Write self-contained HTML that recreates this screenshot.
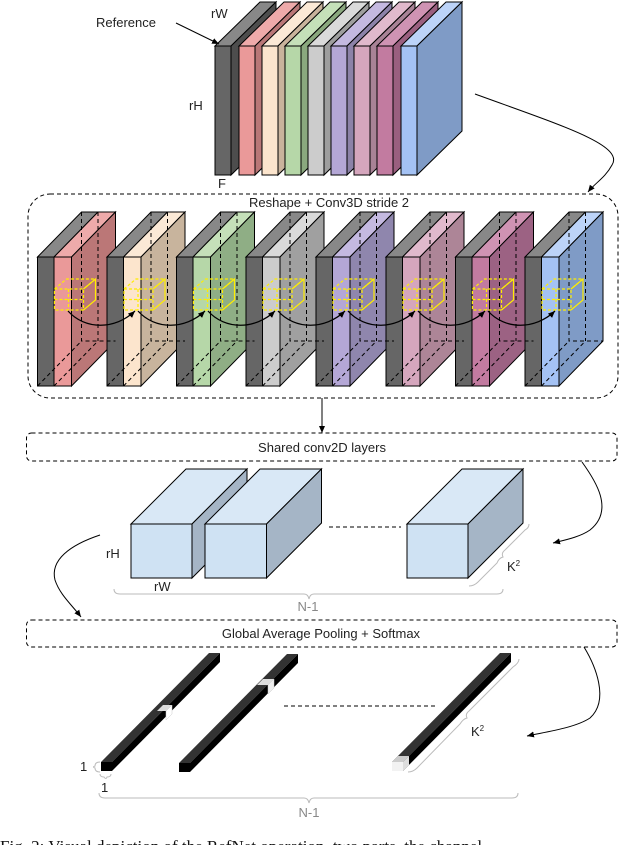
<!DOCTYPE html>
<html><head><meta charset="utf-8"><style>
body{margin:0;background:#fff}
svg{display:block}
text{font-family:"Liberation Sans",sans-serif;fill:#222}
</style></head><body>
<svg width="640" height="845" viewBox="0 0 640 845" xmlns="http://www.w3.org/2000/svg">
<defs>
<marker id="ah" markerWidth="8" markerHeight="8" refX="7" refY="4" orient="auto" markerUnits="userSpaceOnUse"><path d="M0,1 L7,4 L0,7 Z" fill="#000"/></marker>
</defs>
<g stroke="#000" stroke-width="1">
<!-- top stack -->
<g transform="translate(215,0)"><polygon points="0,46 45,2 61,2 16,46" fill="#888"/><polygon points="16,46 61,2 61,131 16,175" fill="#4d4d4d"/><rect x="0" y="46" width="16" height="129" fill="#666"/></g>
<g transform="translate(239,0)"><polygon points="0,46 45,2 61,2 16,46" fill="#eeaaaa"/><polygon points="16,46 61,2 61,131 16,175" fill="#b97777"/><rect x="0" y="46" width="16" height="129" fill="#ea9999"/></g>
<g transform="translate(262,0)"><polygon points="0,46 45,2 61,2 16,46" fill="#fbe9d6"/><polygon points="16,46 61,2 61,131 16,175" fill="#c9b39c"/><rect x="0" y="46" width="16" height="129" fill="#fce5cd"/></g>
<g transform="translate(285,0)"><polygon points="0,46 45,2 61,2 16,46" fill="#c5e0b9"/><polygon points="16,46 61,2 61,131 16,175" fill="#8aa87e"/><rect x="0" y="46" width="16" height="129" fill="#b6d7a8"/></g>
<g transform="translate(308,0)"><polygon points="0,46 45,2 61,2 16,46" fill="#dadada"/><polygon points="16,46 61,2 61,131 16,175" fill="#9e9e9e"/><rect x="0" y="46" width="16" height="129" fill="#cccccc"/></g>
<g transform="translate(331,0)"><polygon points="0,46 45,2 61,2 16,46" fill="#c4b9e0"/><polygon points="16,46 61,2 61,131 16,175" fill="#8c82a8"/><rect x="0" y="46" width="16" height="129" fill="#b4a7d6"/></g>
<g transform="translate(354,0)"><polygon points="0,46 45,2 61,2 16,46" fill="#e0b9cc"/><polygon points="16,46 61,2 61,131 16,175" fill="#a88296"/><rect x="0" y="46" width="16" height="129" fill="#d5a6bd"/></g>
<g transform="translate(377,0)"><polygon points="0,46 45,2 61,2 16,46" fill="#cf93b3"/><polygon points="16,46 61,2 61,131 16,175" fill="#9a5f7f"/><rect x="0" y="46" width="16" height="129" fill="#c27ba0"/></g>
<g transform="translate(401,0)"><polygon points="0,46 45,2 61,2 16,46" fill="#bcd3f8"/><polygon points="16,46 61,2 61,131 16,175" fill="#7f9bc6"/><rect x="0" y="46" width="16" height="129" fill="#a4c2f4"/></g>
</g>
<line x1="176" y1="23" x2="219" y2="44" stroke="#000" marker-end="url(#ah)"/>
<text x="96" y="27" font-size="13">Reference</text>
<text x="211" y="18" font-size="13">rW</text>
<text x="189" y="110" font-size="13">rH</text>
<text x="218" y="188" font-size="13">F</text>
<path d="M475,94 C560,125 625,145 612,165 C605,178 595,183 588,192" fill="none" stroke="#000" marker-end="url(#ah)"/>

<!-- box 1 -->
<rect x="28" y="194" width="590" height="204" rx="22" fill="none" stroke="#000" stroke-dasharray="4,3"/>
<text x="329" y="207" font-size="13" text-anchor="middle">Reshape + Conv3D stride 2</text>

<!-- slab groups -->
<g id="grp1" transform="translate(37.5,0)" stroke="#000">
<polygon points="0,257 44,212 60.5,212 16.5,257" fill="#888"/><rect x="0" y="257" width="16.5" height="129" fill="#666"/>
<polygon points="16.5,257 60.5,212 78,212 34,257" fill="#eeaaaa"/><polygon points="34,257 78,212 78,341 34,386" fill="#bb7777"/><rect x="16.5" y="257" width="17.5" height="129" fill="#ea9999"/>
</g>
<g transform="translate(107,0)" stroke="#000">
<polygon points="0,257 44,212 60.5,212 16.5,257" fill="#888"/><rect x="0" y="257" width="16.5" height="129" fill="#666"/>
<polygon points="16.5,257 60.5,212 78,212 34,257" fill="#fbe9d6"/><polygon points="34,257 78,212 78,341 34,386" fill="#c8b49d"/><rect x="16.5" y="257" width="17.5" height="129" fill="#fce5cd"/>
</g>
<g transform="translate(176.5,0)" stroke="#000">
<polygon points="0,257 44,212 60.5,212 16.5,257" fill="#888"/><rect x="0" y="257" width="16.5" height="129" fill="#666"/>
<polygon points="16.5,257 60.5,212 78,212 34,257" fill="#c5e0b9"/><polygon points="34,257 78,212 78,341 34,386" fill="#8fae85"/><rect x="16.5" y="257" width="17.5" height="129" fill="#b6d7a8"/>
</g>
<g transform="translate(246,0)" stroke="#000">
<polygon points="0,257 44,212 60.5,212 16.5,257" fill="#888"/><rect x="0" y="257" width="16.5" height="129" fill="#666"/>
<polygon points="16.5,257 60.5,212 78,212 34,257" fill="#dadada"/><polygon points="34,257 78,212 78,341 34,386" fill="#a0a0a0"/><rect x="16.5" y="257" width="17.5" height="129" fill="#cccccc"/>
</g>
<g transform="translate(316,0)" stroke="#000">
<polygon points="0,257 44,212 60.5,212 16.5,257" fill="#888"/><rect x="0" y="257" width="16.5" height="129" fill="#666"/>
<polygon points="16.5,257 60.5,212 78,212 34,257" fill="#c4b9e0"/><polygon points="34,257 78,212 78,341 34,386" fill="#8f86ad"/><rect x="16.5" y="257" width="17.5" height="129" fill="#b4a7d6"/>
</g>
<g transform="translate(386,0)" stroke="#000">
<polygon points="0,257 44,212 60.5,212 16.5,257" fill="#888"/><rect x="0" y="257" width="16.5" height="129" fill="#666"/>
<polygon points="16.5,257 60.5,212 78,212 34,257" fill="#e0b9cc"/><polygon points="34,257 78,212 78,341 34,386" fill="#ad8597"/><rect x="16.5" y="257" width="17.5" height="129" fill="#d5a6bd"/>
</g>
<g transform="translate(455.5,0)" stroke="#000">
<polygon points="0,257 44,212 60.5,212 16.5,257" fill="#888"/><rect x="0" y="257" width="16.5" height="129" fill="#666"/>
<polygon points="16.5,257 60.5,212 78,212 34,257" fill="#cf93b3"/><polygon points="34,257 78,212 78,341 34,386" fill="#9c6283"/><rect x="16.5" y="257" width="17.5" height="129" fill="#c27ba0"/>
</g>
<g transform="translate(525,0)" stroke="#000">
<polygon points="0,257 44,212 60.5,212 16.5,257" fill="#888"/><rect x="0" y="257" width="16.5" height="129" fill="#666"/>
<polygon points="16.5,257 60.5,212 78,212 34,257" fill="#bcd3f8"/><polygon points="34,257 78,212 78,341 34,386" fill="#7f9bc6"/><rect x="16.5" y="257" width="17.5" height="129" fill="#a4c2f4"/>
</g>
<!-- dashed hidden edges + yellow cubes -->
<g fill="none" stroke="#000" stroke-dasharray="4,3">
<path d="M81.5,212V341H115.5M37.5,386L81.5,341M54,386L98,341M98,212V341"/>
<path d="M151,212V341H185M107,386L151,341M123.5,386L167.5,341M167.5,212V341"/>
<path d="M220.5,212V341H254.5M176.5,386L220.5,341M193,386L237,341M237,212V341"/>
<path d="M290,212V341H324M246,386L290,341M262.5,386L306.5,341M306.5,212V341"/>
<path d="M360,212V341H394M316,386L360,341M332.5,386L376.5,341M376.5,212V341"/>
<path d="M430,212V341H464M386,386L430,341M402.5,386L446.5,341M446.5,212V341"/>
<path d="M499.5,212V341H533.5M455.5,386L499.5,341M472,386L516,341M516,212V341"/>
<path d="M569,212V341H603M525,386L569,341M541.5,386L585.5,341M585.5,212V341"/>
</g>
<g fill="none" stroke="#ffee00" stroke-width="1.2">
<g transform="translate(37.5,0)"><rect x="17" y="289" width="29" height="21" stroke-dasharray="3,2"/><path d="M31,289V310M17,299.5H46M17,289L29,279H58L46,289" stroke-dasharray="3,2"/><path d="M46,289L58,279V300L46,310"/></g>
<g transform="translate(107,0)"><rect x="17" y="289" width="29" height="21" stroke-dasharray="3,2"/><path d="M31,289V310M17,299.5H46M17,289L29,279H58L46,289" stroke-dasharray="3,2"/><path d="M46,289L58,279V300L46,310"/></g>
<g transform="translate(176.5,0)"><rect x="17" y="289" width="29" height="21" stroke-dasharray="3,2"/><path d="M31,289V310M17,299.5H46M17,289L29,279H58L46,289" stroke-dasharray="3,2"/><path d="M46,289L58,279V300L46,310"/></g>
<g transform="translate(246,0)"><rect x="17" y="289" width="29" height="21" stroke-dasharray="3,2"/><path d="M31,289V310M17,299.5H46M17,289L29,279H58L46,289" stroke-dasharray="3,2"/><path d="M46,289L58,279V300L46,310"/></g>
<g transform="translate(316,0)"><rect x="17" y="289" width="29" height="21" stroke-dasharray="3,2"/><path d="M31,289V310M17,299.5H46M17,289L29,279H58L46,289" stroke-dasharray="3,2"/><path d="M46,289L58,279V300L46,310"/></g>
<g transform="translate(386,0)"><rect x="17" y="289" width="29" height="21" stroke-dasharray="3,2"/><path d="M31,289V310M17,299.5H46M17,289L29,279H58L46,289" stroke-dasharray="3,2"/><path d="M46,289L58,279V300L46,310"/></g>
<g transform="translate(455.5,0)"><rect x="17" y="289" width="29" height="21" stroke-dasharray="3,2"/><path d="M31,289V310M17,299.5H46M17,289L29,279H58L46,289" stroke-dasharray="3,2"/><path d="M46,289L58,279V300L46,310"/></g>
<g transform="translate(525,0)"><rect x="17" y="289" width="29" height="21" stroke-dasharray="3,2"/><path d="M31,289V310M17,299.5H46M17,289L29,279H58L46,289" stroke-dasharray="3,2"/><path d="M46,289L58,279V300L46,310"/></g>
</g>
<g fill="none" stroke="#000" stroke-width="1.3">
<path d="M68,311 C85,330 115,330 135,311" marker-end="url(#ah)"/>
<path d="M138,311 C155,330 185,330 205,311" marker-end="url(#ah)"/>
<path d="M208,311 C225,330 255,330 275,311" marker-end="url(#ah)"/>
<path d="M278,311 C295,330 325,330 345,311" marker-end="url(#ah)"/>
<path d="M348,311 C365,330 395,330 415,311" marker-end="url(#ah)"/>
<path d="M418,311 C435,330 465,330 485,311" marker-end="url(#ah)"/>
<path d="M488,311 C505,330 535,330 555,311" marker-end="url(#ah)"/>
</g>

<line x1="322" y1="398" x2="322" y2="433" stroke="#000" marker-end="url(#ah)"/>
<!-- shared conv box -->
<rect x="26.5" y="433" width="590.5" height="28" rx="5" fill="none" stroke="#000" stroke-dasharray="4,3"/>
<text x="322" y="452" font-size="13" text-anchor="middle">Shared conv2D layers</text>

<g stroke="#000">
<polygon points="131,524 186,469 247,469 192,524" fill="#d9e8f6"/><polygon points="192,524 247,469 247,523 192,578" fill="#a5b5c6"/><rect x="131" y="524" width="61" height="54" fill="#cfe2f3"/>
<polygon points="205,524 260,469 321.5,469 266.5,524" fill="#d9e8f6"/><polygon points="266.5,524 321.5,469 321.5,523 266.5,578" fill="#a5b5c6"/><rect x="205" y="524" width="61.5" height="54" fill="#cfe2f3"/>
<polygon points="407,524 462,469 523,469 468,524" fill="#d9e8f6"/><polygon points="468,524 523,469 523,523 468,578" fill="#a5b5c6"/><rect x="407" y="524" width="61" height="54" fill="#cfe2f3"/>
</g>
<line x1="329" y1="527" x2="401" y2="527" stroke="#000" stroke-dasharray="4,3"/>
<text x="106" y="558" font-size="13">rH</text>
<text x="154" y="591" font-size="13">rW</text>
<text x="507" y="571" font-size="13">K<tspan font-size="8" dy="-5">2</tspan></text>
<g fill="none" stroke="#bbb">
<path d="M114,589 Q114,594 120,594 H304 Q308,594 309,599 Q310,594 314,594 H497 Q503,594 503,589"/>
<path d="M469,586 Q474,586 478,582 L497,563 Q499,558 503,557 Q501,553 505,550 L525,530 Q529,528 529,524"/>
</g>
<text x="308" y="611" font-size="13" text-anchor="middle" fill="#888" style="fill:#888">N-1</text>
<path d="M582,462 C595,480 615,510 590,530 C580,537 565,540 553,543" fill="none" stroke="#000" marker-end="url(#ah)"/>
<path d="M100,535 C70,545 50,560 55,580 C60,595 72,605 81,617" fill="none" stroke="#000" marker-end="url(#ah)"/>

<!-- GAP box -->
<rect x="26.5" y="620" width="590.5" height="27" rx="5" fill="none" stroke="#000" stroke-dasharray="4,3"/>
<text x="321" y="638" font-size="13" text-anchor="middle">Global Average Pooling + Softmax</text>

<!-- bars -->
<g>
<polygon points="101,762 209,653 220,653 112,762" fill="#333"/><polygon points="112,762 220,653 220,662 112,771" fill="#000"/><rect x="101" y="762" width="11" height="9" fill="#000"/>
<polygon points="157,711 163,705 172,705 166,711" fill="#ddd"/><polygon points="166,711 172,705 172,714 166,720" fill="#fff" stroke="#ccc" stroke-width="0.5"/>
<polygon points="179,763 287,654 298,654 190,763" fill="#333"/><polygon points="190,763 298,654 298,663 190,772" fill="#000"/><rect x="179" y="763" width="11" height="9" fill="#000"/>
<polygon points="257,685 263,679 274,679 268,685" fill="#ddd"/><polygon points="268,685 274,679 274,688 268,694" fill="#eee" stroke="#ccc" stroke-width="0.5"/>
<polygon points="392,762 500,653 511,653 403,762" fill="#333"/><polygon points="403,762 511,653 511,662 403,771" fill="#000"/>
<polygon points="392,762 398,756 409,756 403,762" fill="#ccc"/><polygon points="403,762 409,756 409,765 403,771" fill="#ddd"/><rect x="392" y="762" width="11" height="9" fill="#f2f2f2"/>
</g>
<line x1="284" y1="706" x2="435" y2="706" stroke="#000" stroke-dasharray="4,3"/>
<text x="471" y="736" font-size="13">K<tspan font-size="8" dy="-5">2</tspan></text>
<g fill="none" stroke="#bbb">
<path d="M408,772 Q413,772 417,768 L460,724 Q463,719 467,718 Q465,714 469,711 L513,667 Q519,663 519,659"/>
<path d="M99,793 Q99,798 105,798 H304 Q308,798 309,803 Q310,798 314,798 H512 Q518,798 518,793"/>
<path d="M100,762 Q95,762 95,766 Q92,767 95,768 Q95,772 100,772"/>
<path d="M100,774 Q100,777 104,777 Q106,780 107,777 Q111,777 111,774"/>
</g>
<text x="80" y="771" font-size="13">1</text>
<text x="101" y="792" font-size="13">1</text>
<text x="309" y="817" font-size="13" text-anchor="middle" style="fill:#888">N-1</text>
<path d="M584,647 C595,665 610,700 590,718 C575,728 545,732 527,736" fill="none" stroke="#000" marker-end="url(#ah)"/>

<text x="0" y="852" font-size="17" style="font-family:'Liberation Serif',serif;fill:#111">Fig. 2:  Visual depiction of the RefNet operation, two parts, the channel</text>
</svg>
</body></html>
